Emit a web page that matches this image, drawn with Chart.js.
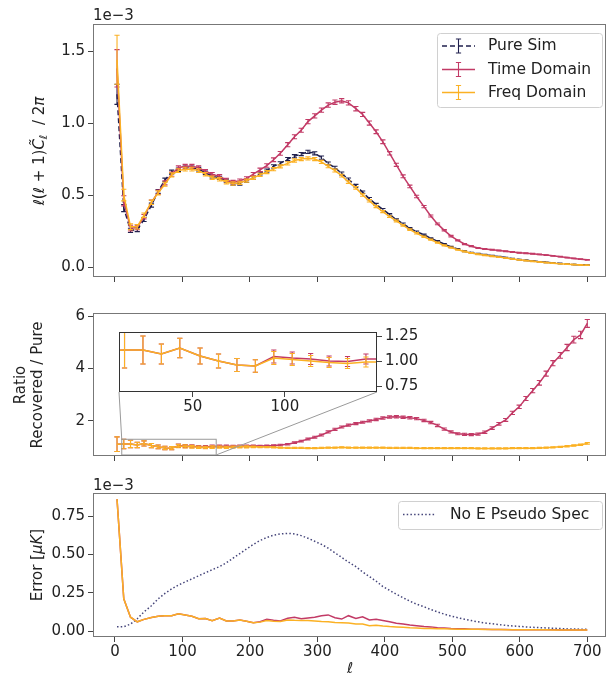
<!DOCTYPE html>
<html><head><meta charset="utf-8">
<script src="https://cdn.jsdelivr.net/npm/chart.js@4"></script>
<style>
html,body{margin:0;padding:0;background:#fff;}
#wrap{position:relative;width:611px;height:673px;overflow:hidden;background:#fff;}
canvas{position:absolute;}
</style></head><body>
<div id="wrap">
<canvas id="c1" width="611" height="290" style="left:0;top:0"></canvas>
<canvas id="c2" width="611" height="180" style="left:0;top:290px"></canvas>
<canvas id="c3" width="611" height="203" style="left:0;top:470px"></canvas>
<canvas id="c4" width="308" height="96" style="left:117px;top:320px"></canvas>
</div>
<script>
// ---------- DATA ----------
const ell = [3,13,23,33,43,54,64,74,84,94,
 104,114,124,134,144,155,165,175,185,195,
 205,215,225,235,245,256,266,276,286,296,
 306,316,326,336,346,357,367,377,387,397,
 407,417,427,437,447,458,468,478,488,498,
 508,518,528,538,548,559,569,579,589,599,
 609,619,629,639,649,660,670,680,690,700];

// top panel, units of 1e-3
const pureSim = [1.20,0.41,0.255,0.26,0.33,0.43,0.525,0.605,0.66,0.675,
 0.69,0.69,0.68,0.655,0.63,0.62,0.60,0.58,0.58,0.60,
 0.62,0.65,0.67,0.70,0.72,0.75,0.77,0.785,0.80,0.79,
 0.76,0.72,0.69,0.65,0.61,0.565,0.52,0.475,0.435,0.40,
 0.365,0.33,0.30,0.27,0.245,0.225,0.20,0.18,0.16,0.14,
 0.125,0.11,0.10,0.092,0.085,0.078,0.072,0.066,0.058,0.052,
 0.047,0.042,0.037,0.033,0.029,0.025,0.021,0.018,0.016,0.014];
const pureErr = [0.07,0.025,0.015,0.014,0.014,0.014,0.013,0.013,0.013,0.012,
 0.012,0.012,0.012,0.012,0.011,0.011,0.011,0.011,0.011,0.011,
 0.011,0.011,0.011,0.011,0.011,0.011,0.011,0.011,0.011,0.011,
 0.011,0.010,0.010,0.010,0.009,0.009,0.008,0.008,0.007,0.007,
 0.006,0.006,0.006,0.005,0.005,0.005,0.004,0.004,0.004,0.004,
 0.003,0.003,0.003,0.003,0.003,0.003,0.002,0.002,0.002,0.002,
 0.002,0.002,0.002,0.002,0.002,0.002,0.002,0.002,0.002,0.002];
const timeDomain = [1.38,0.46,0.27,0.275,0.35,0.45,0.52,0.585,0.645,0.69,
 0.70,0.70,0.69,0.665,0.645,0.63,0.605,0.59,0.60,0.615,
 0.645,0.675,0.705,0.745,0.79,0.85,0.905,0.95,1.01,1.05,
 1.09,1.125,1.145,1.155,1.14,1.10,1.06,1.00,0.94,0.87,
 0.79,0.71,0.63,0.56,0.49,0.42,0.355,0.30,0.255,0.215,
 0.185,0.16,0.145,0.133,0.125,0.12,0.115,0.11,0.105,0.10,
 0.096,0.092,0.088,0.083,0.078,0.072,0.066,0.06,0.055,0.05];
const timeErr = [0.13,0.035,0.02,0.016,0.015,0.015,0.014,0.014,0.014,0.013,
 0.013,0.013,0.013,0.013,0.012,0.012,0.012,0.012,0.012,0.012,
 0.012,0.012,0.012,0.013,0.013,0.014,0.014,0.014,0.015,0.015,
 0.015,0.015,0.015,0.015,0.015,0.015,0.014,0.014,0.013,0.013,
 0.012,0.011,0.010,0.009,0.009,0.008,0.007,0.006,0.005,0.005,
 0.004,0.004,0.004,0.003,0.003,0.003,0.003,0.003,0.003,0.003,
 0.003,0.003,0.003,0.002,0.002,0.002,0.002,0.002,0.002,0.002];
const freqDomain = [1.44,0.50,0.28,0.28,0.36,0.45,0.515,0.575,0.64,0.67,
 0.68,0.68,0.67,0.645,0.62,0.61,0.59,0.58,0.585,0.60,
 0.62,0.64,0.66,0.68,0.70,0.72,0.74,0.75,0.755,0.75,
 0.73,0.70,0.67,0.635,0.59,0.55,0.50,0.46,0.42,0.385,
 0.35,0.32,0.29,0.26,0.235,0.21,0.19,0.17,0.15,0.135,
 0.12,0.108,0.097,0.089,0.082,0.075,0.069,0.063,0.056,0.05,
 0.045,0.04,0.035,0.031,0.027,0.023,0.02,0.017,0.015,0.013];
const freqErr = [0.17,0.04,0.02,0.016,0.015,0.015,0.014,0.014,0.014,0.013,
 0.013,0.013,0.013,0.012,0.012,0.012,0.012,0.012,0.011,0.011,
 0.011,0.011,0.011,0.011,0.011,0.011,0.011,0.011,0.011,0.011,
 0.011,0.010,0.010,0.010,0.009,0.009,0.008,0.008,0.007,0.007,
 0.006,0.006,0.006,0.005,0.005,0.005,0.004,0.004,0.004,0.004,
 0.003,0.003,0.003,0.003,0.003,0.003,0.002,0.002,0.002,0.002,
 0.002,0.002,0.002,0.002,0.002,0.002,0.002,0.002,0.002,0.002];

// middle panel: ratio recovered / pure
const ratioTime = [1.10,1.11,1.11,1.07,1.13,1.05,1.00,0.96,0.95,1.045,
 1.03,1.02,1.00,0.995,1.02,1.02,1.02,1.02,1.03,1.03,
 1.04,1.03,1.04,1.05,1.07,1.10,1.16,1.22,1.30,1.37,
 1.45,1.57,1.67,1.76,1.83,1.89,1.94,1.99,2.05,2.10,
 2.14,2.15,2.13,2.11,2.08,2.01,1.93,1.82,1.68,1.57,
 1.50,1.48,1.47,1.49,1.56,1.72,1.88,2.03,2.30,2.53,
 2.85,3.15,3.45,3.80,4.20,4.50,4.80,5.10,5.28,5.72];
const ratioTimeErr = [0.28,0.18,0.14,0.10,0.097,0.08,0.07,0.065,0.063,0.065,
 0.06,0.055,0.05,0.05,0.05,0.045,0.045,0.04,0.04,0.04,
 0.03,0.03,0.03,0.03,0.03,0.03,0.03,0.03,0.035,0.035,
 0.035,0.04,0.04,0.04,0.04,0.04,0.04,0.04,0.045,0.045,
 0.045,0.045,0.045,0.045,0.045,0.045,0.045,0.045,0.04,0.04,
 0.04,0.04,0.04,0.04,0.045,0.05,0.05,0.055,0.06,0.065,
 0.075,0.08,0.09,0.095,0.10,0.11,0.12,0.13,0.14,0.15];
const ratioFreq = [1.10,1.11,1.11,1.07,1.13,1.05,1.00,0.96,0.95,1.03,
 1.015,1.00,0.985,0.975,0.99,0.99,0.98,0.99,1.00,1.00,
 1.00,0.99,0.99,0.98,0.97,0.96,0.96,0.96,0.95,0.95,
 0.96,0.97,0.97,0.98,0.97,0.97,0.97,0.97,0.97,0.97,
 0.96,0.96,0.96,0.96,0.95,0.95,0.95,0.95,0.95,0.95,
 0.95,0.95,0.95,0.94,0.94,0.94,0.94,0.94,0.95,0.95,
 0.95,0.95,0.96,0.97,0.98,1.00,1.02,1.05,1.08,1.13];
const ratioFreqErr = [0.28,0.18,0.14,0.10,0.097,0.08,0.07,0.065,0.063,0.065,
 0.06,0.055,0.05,0.05,0.05,0.045,0.045,0.04,0.04,0.04,
 0.03,0.025,0.025,0.025,0.025,0.025,0.025,0.025,0.025,0.025,
 0.025,0.025,0.025,0.025,0.025,0.025,0.025,0.025,0.025,0.025,
 0.025,0.025,0.025,0.02,0.02,0.02,0.02,0.02,0.02,0.02,
 0.02,0.02,0.02,0.02,0.02,0.02,0.02,0.02,0.02,0.02,
 0.02,0.02,0.02,0.02,0.02,0.02,0.025,0.025,0.025,0.03];

// bottom panel: error, units of 1e-3
const errorTime = [0.86,0.21,0.09,0.06,0.076,0.088,0.097,0.10,0.10,0.113,
 0.105,0.096,0.08,0.082,0.067,0.085,0.065,0.066,0.072,0.063,
 0.054,0.06,0.076,0.07,0.065,0.083,0.089,0.08,0.085,0.09,
 0.10,0.105,0.087,0.078,0.10,0.082,0.093,0.072,0.076,0.068,
 0.06,0.05,0.046,0.04,0.035,0.03,0.027,0.022,0.019,0.016,
 0.015,0.014,0.012,0.011,0.011,0.010,0.010,0.010,0.009,0.009,
 0.009,0.008,0.008,0.008,0.008,0.007,0.007,0.007,0.006,0.006];
const errorFreq = [0.86,0.21,0.09,0.06,0.076,0.088,0.097,0.10,0.10,0.113,
 0.105,0.096,0.08,0.082,0.067,0.085,0.065,0.066,0.072,0.063,
 0.054,0.058,0.068,0.063,0.062,0.072,0.07,0.069,0.069,0.066,
 0.062,0.06,0.056,0.054,0.052,0.046,0.046,0.035,0.038,0.033,
 0.029,0.027,0.024,0.021,0.019,0.017,0.016,0.015,0.014,0.013,
 0.012,0.012,0.011,0.011,0.010,0.010,0.010,0.009,0.009,0.009,
 0.008,0.008,0.008,0.008,0.007,0.007,0.007,0.006,0.006,0.006];
const noEPseudo = [0.028,0.028,0.045,0.08,0.125,0.165,0.21,0.245,0.275,0.30,
 0.32,0.34,0.36,0.38,0.40,0.42,0.445,0.475,0.505,0.535,
 0.565,0.59,0.61,0.625,0.633,0.637,0.633,0.622,0.605,0.585,
 0.565,0.54,0.51,0.48,0.45,0.42,0.385,0.355,0.325,0.29,
 0.265,0.24,0.217,0.195,0.175,0.158,0.14,0.125,0.11,0.097,
 0.087,0.077,0.068,0.06,0.053,0.047,0.042,0.037,0.033,0.03,
 0.027,0.024,0.022,0.02,0.018,0.016,0.014,0.013,0.012,0.011];

// ticks
const xTicks = [0,100,200,300,400,500,600,700];
const xTickLabels = ['0','100','200','300','400','500','600','700'];
const topYTicks = [0,0.5,1.0,1.5];
const topYTickLabels = ['0.0','0.5','1.0','1.5'];
const midYTicks = [2,4,6];
const midYTickLabels = ['2','4','6'];
const botYTicks = [0,0.25,0.5,0.75];
const botYTickLabels = ['0.00','0.25','0.50','0.75'];
const insetXTicks = [50,100];
const insetXTickLabels = ['50','100'];
const insetYTicks = [0.75,1.0,1.25];
const insetYTickLabels = ['0.75','1.00','1.25'];

const seriesNames = ['Pure Sim','Time Domain','Freq Domain'];
const noELabel = 'No E Pseudo Spec';

// ---------- STYLE ----------
const C_PURE = '#20204e', C_TIME = '#c23a66', C_FREQ = '#fbb124', C_NOE = '#45457a';
const FONT = '"DejaVu Sans", sans-serif';
const TXT = '#222';
Chart.defaults.font.family = FONT;
Chart.defaults.font.size = 15;
Chart.defaults.color = TXT;

const XMIN = -32.6, XMAX = 727.7;

function pts(ys){ return ell.map((l,i)=>({x:l, y:ys[i]})); }

function mkX(ticks, labels, show, h, min, max){
  return {type:'linear', position:'bottom', min, max,
    afterBuildTicks(s){ s.ticks = ticks.map(v=>({value:v})); },
    afterFit(s){ s.height = h; },
    ticks:{display:show, autoSkip:false, maxRotation:0, padding:1, color:TXT, font:{size:15},
      callback:(v,i)=>labels[i]},
    grid:{drawOnChartArea:false, drawTicks:true, tickLength:5, color:'#444', lineWidth:1},
    border:{display:false}};
}
function mkY(ticks, labels, w, min, max, pos){
  return {type:'linear', position:pos||'left', min, max,
    afterBuildTicks(s){ s.ticks = ticks.map(v=>({value:v})); },
    afterFit(s){ s.width = w; },
    ticks:{autoSkip:false, padding:3, color:TXT, font:{size:15}, callback:(v,i)=>labels[i]},
    grid:{drawOnChartArea:false, drawTicks:true, tickLength:5, color:'#444', lineWidth:1},
    border:{display:false}};
}

const frame = {id:'frame', afterDatasetsDraw(c, a, o){
  const {left,top,right,bottom} = c.chartArea, ctx = c.ctx;
  ctx.save(); ctx.strokeStyle = o.color || '#777'; ctx.lineWidth = 1; ctx.setLineDash([]);
  ctx.strokeRect(left+0.5, top+0.5, right-left-1, bottom-top-1); ctx.restore();
}};
const errBars = {id:'errBars', afterDatasetDraw(chart, args){
  const ds = chart.data.datasets[args.index]; if(!ds.errors) return;
  const ctx = chart.ctx, xs = chart.scales.x, ys = chart.scales.y, a = chart.chartArea;
  ctx.save(); ctx.beginPath(); ctx.rect(a.left, a.top, a.right-a.left, a.bottom-a.top); ctx.clip();
  ctx.strokeStyle = ds.borderColor; ctx.lineWidth = 1.1; ctx.setLineDash([]);
  const cap = 2.6;
  ds.data.forEach((p,i)=>{ const e = ds.errors[i]; if(!e) return;
    const x = xs.getPixelForValue(p.x), y1 = ys.getPixelForValue(p.y-e), y2 = ys.getPixelForValue(p.y+e);
    ctx.beginPath(); ctx.moveTo(x,y1); ctx.lineTo(x,y2);
    ctx.moveTo(x-cap,y1); ctx.lineTo(x+cap,y1); ctx.moveTo(x-cap,y2); ctx.lineTo(x+cap,y2); ctx.stroke(); });
  ctx.restore();
}};

function rich(ctx, segs, x, y, rot){
  ctx.save(); ctx.translate(x,y); if(rot) ctx.rotate(-Math.PI/2);
  ctx.fillStyle = TXT; ctx.textBaseline = 'middle'; ctx.textAlign = 'left';
  let tot = 0; segs.forEach(s=>{ ctx.font = s.f; s.w = ctx.measureText(s.t).width; tot += s.w; });
  let cx = -tot/2;
  segs.forEach(s=>{ ctx.font = s.f; ctx.fillText(s.t, cx, s.dy||0); cx += s.w; });
  ctx.restore();
}
const N15 = '15px '+FONT, I15 = 'italic 15px '+FONT, I11 = 'italic 11px '+FONT, LF = '15.5px '+FONT;

function legendBox(ctx, x0, y0, x1, y1){
  ctx.save(); ctx.beginPath(); ctx.roundRect(x0+0.5, y0+0.5, x1-x0, y1-y0, 3);
  ctx.fillStyle = 'rgba(255,255,255,0.85)'; ctx.fill(); ctx.strokeStyle = '#d0d0d0'; ctx.lineWidth = 1; ctx.stroke(); ctx.restore();
}
function ebGlyph(ctx, x0, x1, y, color, dash){
  ctx.save(); ctx.strokeStyle = color; ctx.lineWidth = 1.5; ctx.setLineDash(dash||[]);
  ctx.beginPath(); ctx.moveTo(x0,y); ctx.lineTo(x1,y); ctx.stroke();
  ctx.setLineDash([]); ctx.lineWidth = 1.1; const m = (x0+x1)/2;
  ctx.beginPath(); ctx.moveTo(m,y-7); ctx.lineTo(m,y+7); ctx.moveTo(m-2.6,y-7); ctx.lineTo(m+2.6,y-7);
  ctx.moveTo(m-2.6,y+7); ctx.lineTo(m+2.6,y+7); ctx.stroke(); ctx.restore();
}

const common = {responsive:false, animation:false, devicePixelRatio:1, events:[],
  elements:{point:{radius:0}, line:{tension:0, borderWidth:1.5}}};

// ---------- TOP CHART ----------
const decorTop = {id:'decorTop', afterDraw(c){
  const ctx = c.ctx;
  rich(ctx, [{t:'ℓ',f:I15},{t:'(',f:N15},{t:'ℓ',f:I15},{t:' + 1)',f:N15},{t:'C\u0303',f:I15},{t:'ℓ',f:I11,dy:4},{t:'  / 2',f:N15},{t:'π',f:I15}], 40, 151, true);
  ctx.save(); ctx.font = N15; ctx.fillStyle = TXT; ctx.textBaseline = 'middle'; ctx.fillText('1e\u22123', 93, 16.5); ctx.restore();
  legendBox(ctx, 437, 33, 602, 107);
  const rows = [46, 69.5, 92.5], cols = [C_PURE, C_TIME, C_FREQ];
  rows.forEach((y,i)=>{ ebGlyph(ctx, 442, 475, y, cols[i], i===0?[5,3]:null);
    ctx.save(); ctx.font = LF; ctx.fillStyle = TXT; ctx.textBaseline = 'middle'; ctx.fillText(seriesNames[i], 488, y); ctx.restore(); });
}};
new Chart(document.getElementById('c1'), {type:'line',
  data:{datasets:[
    {label:seriesNames[0], data:pts(pureSim), errors:pureErr, borderColor:C_PURE, borderDash:[5,3], order:3},
    {label:seriesNames[1], data:pts(timeDomain), errors:timeErr, borderColor:C_TIME, order:2},
    {label:seriesNames[2], data:pts(freqDomain), errors:freqErr, borderColor:C_FREQ, order:1}]},
  options:Object.assign({}, common, {layout:{padding:{top:24,right:5,left:0,bottom:0}},
    plugins:{legend:{display:false}, tooltip:{enabled:false}, frame:{color:'#777'}},
    scales:{x:mkX(xTicks, xTickLabels, false, 13, XMIN, XMAX), y:mkY(topYTicks, topYTickLabels, 93, -0.069, 1.688)}}),
  plugins:[frame, errBars, decorTop]});

// ---------- INSET ----------
const insetBg = {id:'insetBg', beforeDraw(c){ const a = c.chartArea; c.ctx.save(); c.ctx.fillStyle = '#fff';
  c.ctx.fillRect(a.left, a.top, a.right-a.left, a.bottom-a.top); c.ctx.restore(); }};
const insetChart = new Chart(document.getElementById('c4'), {type:'line',
  data:{datasets:[
    {data:pts(ratioTime), errors:ratioTimeErr, borderColor:C_TIME, order:2},
    {data:pts(ratioFreq), errors:ratioFreqErr, borderColor:C_FREQ, order:1}]},
  options:Object.assign({}, common, {layout:{padding:{top:2,left:2,right:0,bottom:0}},
    plugins:{legend:{display:false}, tooltip:{enabled:false}, frame:{color:'#333'}},
    scales:{x:mkX(insetXTicks, insetXTickLabels, true, 24, 10, 150), y:mkY(insetYTicks, insetYTickLabels, 48, 0.69, 1.29, 'right')}}),
  plugins:[insetBg, frame, errBars]});

// ---------- MIDDLE CHART ----------
const decorMid = {id:'decorMid', afterDatasetsDraw(c){
  const ctx = c.ctx, xs = c.scales.x, ys = c.scales.y;
  const x0 = xs.getPixelForValue(10), x1 = xs.getPixelForValue(150), yT = ys.getPixelForValue(1.29), yB = ys.getPixelForValue(0.69);
  const ia = insetChart.chartArea, ox = 117, oy = 30;
  ctx.save(); ctx.strokeStyle = '#9a9a9a'; ctx.lineWidth = 1;
  ctx.strokeRect(x0, yT, x1-x0, yB-yT);
  ctx.beginPath(); ctx.moveTo(x0, yT); ctx.lineTo(ia.left+ox, ia.bottom+oy);
  ctx.moveTo(x1, yB); ctx.lineTo(ia.right+ox, ia.bottom+oy); ctx.stroke(); ctx.restore();
}, afterDraw(c){
  const ctx = c.ctx;
  rich(ctx, [{t:'Ratio',f:N15}], 21, 95, true);
  rich(ctx, [{t:'Recovered / Pure',f:N15}], 38, 95, true);
}};
new Chart(document.getElementById('c2'), {type:'line',
  data:{datasets:[
    {data:pts(ratioTime), errors:ratioTimeErr, borderColor:C_TIME, order:2},
    {data:pts(ratioFreq), errors:ratioFreqErr, borderColor:C_FREQ, order:1}]},
  options:Object.assign({}, common, {layout:{padding:{top:23,right:5,left:0,bottom:0}},
    plugins:{legend:{display:false}, tooltip:{enabled:false}, frame:{color:'#777'}},
    scales:{x:mkX(xTicks, xTickLabels, false, 14, XMIN, XMAX), y:mkY(midYTicks, midYTickLabels, 93, 0.65, 6.12)}}),
  plugins:[decorMid, frame, errBars]});

// ---------- BOTTOM CHART ----------
const decorBot = {id:'decorBot', afterDraw(c){
  const ctx = c.ctx;
  rich(ctx, [{t:'Error [',f:N15},{t:'μK',f:I15},{t:']',f:N15}], 38, 95, true);
  rich(ctx, [{t:'ℓ',f:I15}], 350, 199, false);
  ctx.save(); ctx.font = N15; ctx.fillStyle = TXT; ctx.textBaseline = 'middle'; ctx.fillText('1e\u22123', 93, 16); ctx.restore();
  legendBox(ctx, 398, 31, 602, 59);
  ctx.save(); ctx.strokeStyle = C_NOE; ctx.lineWidth = 1.5; ctx.setLineDash([1.5,2.2]);
  ctx.beginPath(); ctx.moveTo(403, 44.5); ctx.lineTo(435, 44.5); ctx.stroke(); ctx.restore();
  ctx.save(); ctx.font = LF; ctx.fillStyle = TXT; ctx.textBaseline = 'middle'; ctx.fillText(noELabel, 450, 44.5); ctx.restore();
}};
new Chart(document.getElementById('c3'), {type:'line',
  data:{datasets:[
    {data:pts(noEPseudo), borderColor:C_NOE, borderDash:[1.5,2.2], order:3},
    {data:pts(errorTime), borderColor:C_TIME, order:2},
    {data:pts(errorFreq), borderColor:C_FREQ, order:1}]},
  options:Object.assign({}, common, {layout:{padding:{top:23,right:5,left:0,bottom:0}},
    plugins:{legend:{display:false}, tooltip:{enabled:false}, frame:{color:'#777'}},
    scales:{x:mkX(xTicks, xTickLabels, true, 36, XMIN, XMAX), y:mkY(botYTicks, botYTickLabels, 93, -0.039, 0.90)}}),
  plugins:[frame, decorBot]});
</script>
</body></html>
